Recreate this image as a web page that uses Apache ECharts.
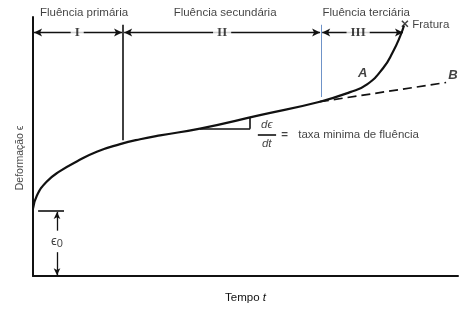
<!DOCTYPE html>
<html><head><meta charset="utf-8">
<script src="https://cdn.jsdelivr.net/npm/echarts@6/dist/echarts.min.js"></script>
<style>html,body{margin:0;padding:0;background:#fff}#c{width:475px;height:309px}</style>
</head><body><div id="c"></div>
<script>
// Creep curve (time t vs strain ε), units: 0..100 on both axes
const curveT = [0, 0.9, 3.2, 6.35, 10.3, 15.0, 20.5, 25.2, 29.9, 39.3, 53.4, 67.5, 74.6, 78.6, 82.4, 84.7, 86.4, 87.3];
const curveE = [26.0, 31.0, 36.4, 40.5, 44.2, 48.0, 50.9, 52.8, 54.3, 56.9, 62.1, 67.3, 71.0, 74.0, 80.3, 86.6, 92.6, 96.7];
const extT = [67.5, 97.2];          // extrapolated secondary line B
const extE = [67.3, 74.7];
const stageBounds = [0, 21.2, 67.8, 87.3];   // stage boundaries along time
const stageNames = ['Fluência primária', 'Fluência secundária', 'Fluência terciária'];
const stageRoman = ['I', 'II', 'III'];
const stageRomanT = [10.4, 44.5, 76.5];
const stageNameT = [12.0, 45.2, 78.4];
const arrowRowE = 94.05;
const e0 = 25.3;

const font = '"Liberation Sans", Arial, sans-serif';
const dark = '#111';

function seg(a, b) { return [{ coord: a }, { coord: b }]; }

const headerSegs = [];
for (let i = 0; i < 3; i++) {
  headerSegs.push(seg([stageBounds[i] + 0.25, arrowRowE], [stageBounds[i + 1] - 0.25, arrowRowE]));
}

const texts = [];
function txt(t, e, s, extra) { texts.push(Object.assign({ value: [t, e], label: Object.assign({ formatter: s }, extra || {}) })); }
stageNames.forEach((n, i) => txt(stageNameT[i], 101.6, n));
stageRoman.forEach((n, i) => txt(stageRomanT[i], arrowRowE, n, { fontFamily: '"Liberation Serif", serif', fontSize: 13, fontWeight: 'bold', backgroundColor: '#fff', padding: [0, 4] }));
txt(93.6, 97.0, 'Fratura');
txt(77.6, 78.4, 'A', { fontStyle: 'italic', fontSize: 13, fontWeight: 'bold' });
txt(98.8, 77.3, 'B', { fontStyle: 'italic', fontSize: 13, fontWeight: 'bold' });
txt(55.0, 58.2, 'd\u03f5', { fontStyle: 'italic' });
txt(55.0, 50.9, 'dt', { fontStyle: 'italic' });
txt(59.2, 54.6, '=', { fontWeight: 'bold' });
txt(62.4, 54.6, 'taxa minima de fluência', { align: 'left' });
txt(5.65, 13.4, '\u03f5{s|0}', { fontSize: 13, rich: { s: { fontSize: 11, verticalAlign: 'bottom', padding: [5, 0, 0, 0] } } });
txt(-3.1, 45.6, 'Deformação \u03f5', { rotate: 90, fontSize: 10.5 });

const chart = echarts.init(document.getElementById('c'));
chart.setOption({
  animation: false,
  grid: { left: 33, right: 17, top: 17, bottom: 23 },
  xAxis: {
    type: 'value', min: 0, max: 100,
    axisLine: { show: true, lineStyle: { color: dark, width: 2 } },
    axisTick: { show: false }, axisLabel: { show: false }, splitLine: { show: false },
    name: 'Tempo {i|t}', nameLocation: 'middle', nameGap: 16,
    nameTextStyle: { fontFamily: font, fontSize: 11.5, color: dark, rich: { i: { fontStyle: 'italic', fontSize: 11.5, fontFamily: font } } }
  },
  yAxis: {
    type: 'value', min: 0, max: 100,
    axisLine: { show: true, lineStyle: { color: dark, width: 2 } },
    axisTick: { show: false }, axisLabel: { show: false }, splitLine: { show: false }
  },
  series: [
    {
      type: 'line', data: curveT.map((t, i) => [t, curveE[i]]),
      smooth: true, symbol: 'none', showSymbol: false, clip: false,
      lineStyle: { color: dark, width: 2.2 }, z: 3
    },
    {
      type: 'line', data: extT.map((t, i) => [t, extE[i]]),
      symbol: 'none', clip: false,
      lineStyle: { color: dark, width: 1.7, type: [9, 5] }, z: 3
    },
    {
      type: 'line', data: [], clip: false,
      markLine: {
        silent: true, symbol: ['arrow', 'arrow'], symbolSize: [6, 8], label: { show: false },
        lineStyle: { color: dark, width: 1.3, type: 'solid' },
        data: headerSegs
      }
    },
    {
      type: 'line', data: [], clip: false,
      markLine: {
        silent: true, symbol: ['none', 'none'], label: { show: false },
        lineStyle: { color: dark, width: 1.6, type: 'solid' },
        data: [
          seg([stageBounds[1], 97.0], [stageBounds[1], 52.4]),
          seg([39.3, 56.9], [51.1, 56.9]),
          seg([51.1, 56.9], [51.1, 61.0]),
          seg([52.9, 54.6], [57.2, 54.6]),
          seg([1.2, e0], [7.3, e0])
        ]
      }
    },
    {
      type: 'line', data: [], clip: false,
      markLine: {
        silent: true, symbol: ['none', 'none'], label: { show: false },
        lineStyle: { color: '#6f93c8', width: 1, type: 'solid' },
        data: [seg([stageBounds[2], 97.0], [stageBounds[2], 69.1])]
      }
    },
    {
      type: 'line', data: [], clip: false,
      markLine: {
        silent: true, symbol: ['none', 'arrow'], symbolSize: [5, 7], label: { show: false },
        lineStyle: { color: dark, width: 1.3, type: 'solid' },
        data: [seg([5.65, 17.5], [5.65, e0 - 0.6]), seg([5.65, 9.2], [5.65, 0.3])]
      }
    },
    {
      type: 'scatter', symbol: 'path://M0,0L10,10M10,0L0,10', symbolSize: 6, clip: false,
      itemStyle: { color: 'none', borderColor: dark, borderWidth: 1.5 },
      data: [[87.5, 97.4]], z: 4
    },
    {
      type: 'scatter', symbolSize: 0, clip: false, z: 10,
      label: { show: true, position: 'inside', color: dark, fontFamily: font, fontSize: 11.5, align: 'center', verticalAlign: 'middle' },
      data: texts
    }
  ]
});
</script></body></html>
